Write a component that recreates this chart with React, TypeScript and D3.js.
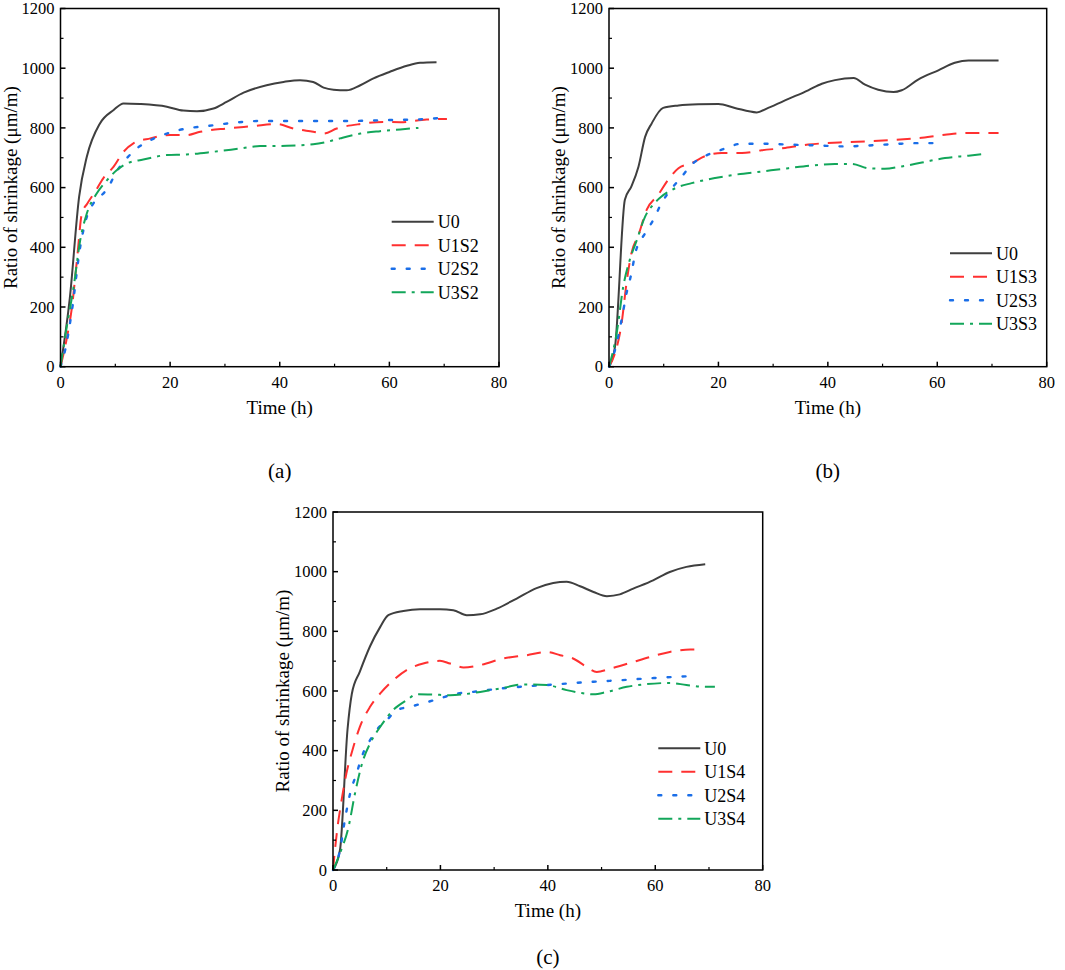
import * as d3 from "d3";

type Pt = [number, number];

// ---- data: [time (h), shrinkage (µm/m)] ----
const U0_a: Pt[] = [[0,0],[1.7,230],[3.4,570],[4.8,703],[7.2,815],[9.7,860],[11.5,882],[14.5,880],[19.4,871],[22.4,858],[24.9,856],[27.9,865],[30.3,887],[33.4,918],[37.6,943],[40.7,954],[43.7,960],[46.1,954],[48,935],[49.8,928],[52.2,926],[54.7,943],[57.1,966],[60.1,988],[63.2,1008],[65.6,1018],[68.6,1020]];
const U1S2: Pt[] = [[0,0],[1.2,100],[2.1,201],[3,357],[3.9,513],[4.9,547],[6.3,586],[7.8,631],[9.7,670],[11.5,720],[13.3,748],[16.4,765],[20,776],[23,776],[25.5,787],[30.3,798],[35.2,806],[39.4,813],[42.5,798],[46.1,787],[48,781],[50.4,798],[54.7,813],[58.9,820],[62,819],[66.8,828],[70.5,830]];
const U2S2: Pt[] = [[0,0],[0.85,56],[2.1,190],[3.6,402],[4.8,502],[6,547],[7.2,569],[8.8,603],[10,647],[11.8,692],[13.9,731],[16.4,759],[19.4,781],[23,798],[26.7,806],[31.5,817],[36.4,823],[43.7,823],[49.8,823],[55.9,824],[58.9,826],[65,828],[70.5,835]];
const U3S2: Pt[] = [[0,0],[1.15,134],[2.4,268],[3.6,424],[4.8,513],[6.6,580],[8.5,625],[10.3,659],[12.1,681],[15.1,694],[19.4,709],[23,711],[27.9,720],[32.8,731],[36.4,739],[41.3,740],[46.1,745],[48.6,753],[51,765],[54.7,781],[58.3,789],[62,795],[65.3,800]];

const U0_b: Pt[] = [[0,0],[1.1,67],[2.9,559],[4.1,604],[5.4,671],[6.6,770],[7.8,815],[9.9,867],[12.7,875],[16.3,879],[20,880],[23,867],[27,852],[29.1,867],[32.8,897],[36.4,926],[38.9,948],[41.3,960],[44.7,967],[46.8,945],[49.2,928],[52,920],[53.5,926],[56.5,962],[60.2,993],[63.2,1018],[65.7,1026],[71.2,1026]];
const U1S3: Pt[] = [[0,0],[1.1,45],[2.3,145],[3.2,280],[4.1,380],[5.4,442],[6.9,526],[9,576],[10.8,626],[12.7,665],[15.1,682],[17.5,705],[20.6,716],[24.3,716],[27.9,725],[32.2,733],[36.4,744],[43.1,752],[47.4,755],[52.3,760],[56.5,766],[61.4,777],[65.7,783],[71.2,783]];
const U2S3: Pt[] = [[0,0],[1.1,56],[2.3,157],[3.2,246],[4.1,313],[4.8,380],[6.6,447],[8.1,492],[9.6,548],[11.5,598],[13.3,637],[15.1,677],[17.5,705],[20.6,727],[24.3,747],[27.9,747],[32.8,744],[38.3,741],[43.1,738],[47.4,741],[52.3,746],[56.5,749],[60.8,749]];
const U3S3: Pt[] = [[0,0],[1.4,112],[2.6,268],[3.8,358],[5.1,425],[6.6,503],[7.8,537],[9.6,570],[12.1,598],[15.1,615],[19.4,632],[23,643],[27.9,654],[32.8,665],[37,674],[41.3,679],[44.4,679],[47.4,665],[50.4,663],[53.5,671],[57.2,684],[61.4,699],[65.7,707],[68.7,713]];

const U0_c: Pt[] = [[0,0],[1.3,67],[2.7,470],[3.5,590],[5,665],[6.9,750],[8.8,815],[10.3,854],[13.1,868],[16.2,874],[19.9,874],[22.4,871],[24.9,854],[27.4,857],[30.5,876],[34.2,910],[37.9,945],[41,962],[43.5,966],[46,951],[48.5,932],[51,918],[53.4,924],[55.9,943],[59.6,971],[62.7,999],[65.8,1016],[69.3,1025]];
const U1S4: Pt[] = [[0,0],[0.7,123],[1.6,234],[2.5,324],[3.8,413],[5,480],[6.9,547],[8.8,592],[11.2,636],[13.7,670],[16.8,692],[19.9,701],[21.8,692],[24.3,679],[27.4,687],[31.7,709],[36.1,720],[39.8,731],[42.3,720],[44.7,709],[47.2,681],[49.1,664],[51.6,675],[55.3,694],[59,714],[62.7,731],[66.5,739],[68.6,739]];
const U2S4: Pt[] = [[0,0],[1.3,67],[2.2,167],[3.2,257],[4.4,324],[5.6,391],[6.9,435],[8.1,469],[10,502],[11.9,536],[14.3,547],[17.4,562],[19.9,575],[22.4,589],[26.1,597],[31.1,608],[36.1,616],[39.8,620],[43.5,625],[48.5,631],[53.4,636],[58.4,642],[63.4,647],[67.1,650]];
const U3S4: Pt[] = [[0,0],[1.3,56],[2.9,145],[4.1,257],[5.6,368],[6.9,424],[8.8,480],[11.2,536],[13.7,569],[15.6,589],[18.7,588],[21.8,586],[24.3,589],[27.4,597],[31.1,608],[35.4,622],[39.8,620],[43.5,603],[46,594],[48.5,589],[51,597],[54.7,614],[58.4,623],[62.7,627],[65.8,620],[69,614],[71.1,614]];

const xTicks = [0, 20, 40, 60, 80];
const yTicks = [0, 200, 400, 600, 800, 1000, 1200];
const xMinor = [10, 30, 50, 70];
const yMinor = [100, 300, 500, 700, 900, 1100];

const styles = [
  { color: "#3f3f3f", dash: null as string | null, width: 2 },
  { color: "#ff3030", dash: "14,9", width: 2 },
  { color: "#1a6ee8", dash: "3,12", width: 2.4 },
  { color: "#12a65a", dash: "14,6,3,6", width: 2 },
];

const FONT = "Liberation Serif, Times New Roman, DejaVu Serif, serif";

type PanelProps = {
  left: number; right: number; top: number; bottom: number;
  series: { name: string; data: Pt[] }[];
  legendX: number; legendY: number; label: string; labelY: number;
};

function Panel({ left, right, top, bottom, series, legendX, legendY, label, labelY }: PanelProps) {
  const x = d3.scaleLinear().domain([0, 80]).range([left, right]);
  const y = d3.scaleLinear().domain([0, 1200]).range([bottom, top]);
  const line = d3.line<Pt>().x(d => x(d[0])).y(d => y(d[1])).curve(d3.curveMonotoneX);
  const midX = (left + right) / 2;

  return (
    <g style={{ fontFamily: FONT }}>
      {series.map((s, i) => (
        <path key={s.name} d={line(s.data) ?? ""} fill="none"
          stroke={styles[i].color} strokeWidth={styles[i].width}
          strokeDasharray={styles[i].dash ?? undefined}
          strokeLinecap={i === 2 ? "round" : "butt"} />
      ))}
      <rect x={left} y={top} width={right - left} height={bottom - top} fill="none" stroke="#000" strokeWidth={1.5} />
      {xTicks.map(t => (
        <g key={"x" + t}>
          <line x1={x(t)} x2={x(t)} y1={bottom} y2={bottom - 5} stroke="#000" strokeWidth={1.5} />
          <text x={x(t)} y={bottom + 21} textAnchor="middle" fontSize={16.5}>{t}</text>
        </g>
      ))}
      {xMinor.map(t => (
        <line key={"xm" + t} x1={x(t)} x2={x(t)} y1={bottom} y2={bottom - 3} stroke="#000" strokeWidth={1.2} />
      ))}
      {yTicks.map(t => (
        <g key={"y" + t}>
          <line x1={left} x2={left + 5} y1={y(t)} y2={y(t)} stroke="#000" strokeWidth={1.5} />
          <text x={left - 6} y={y(t)} dy="0.35em" textAnchor="end" fontSize={16.5}>{t}</text>
        </g>
      ))}
      {yMinor.map(t => (
        <line key={"ym" + t} x1={left} x2={left + 3} y1={y(t)} y2={y(t)} stroke="#000" strokeWidth={1.2} />
      ))}
      <text x={midX} y={bottom + 47} textAnchor="middle" fontSize={19}>Time (h)</text>
      <text transform={`translate(${left - 44},${(top + bottom) / 2}) rotate(-90)`} textAnchor="middle"
        fontSize={19}>Ratio of shrinkage (μm/m)</text>
      {series.map((s, i) => (
        <g key={"lg" + s.name} transform={`translate(${legendX},${legendY + i * 23.5})`}>
          <line x1={0} x2={42} y1={0} y2={0} stroke={styles[i].color} strokeWidth={styles[i].width}
            strokeDasharray={styles[i].dash ?? undefined} strokeLinecap={i === 2 ? "round" : "butt"} />
          <text x={46} y={0} dy="0.35em" fontSize={18}>{s.name}</text>
        </g>
      ))}
      <text x={midX} y={labelY} dy="0.35em" textAnchor="middle" fontSize={21}>{label}</text>
    </g>
  );
}

export default function App() {
  return (
    <svg width={1065} height={970} style={{ position: "absolute", left: 0, top: 0, background: "#fff" }}>
      <Panel left={60.5} right={499} top={8.5} bottom={366.7} legendX={391.7} legendY={221.7}
        label="(a)" labelY={471}
        series={[{ name: "U0", data: U0_a }, { name: "U1S2", data: U1S2 }, { name: "U2S2", data: U2S2 }, { name: "U3S2", data: U3S2 }]} />
      <Panel left={609} right={1046.7} top={8.5} bottom={366.7} legendX={950} legendY={253.3}
        label="(b)" labelY={471}
        series={[{ name: "U0", data: U0_b }, { name: "U1S3", data: U1S3 }, { name: "U2S3", data: U2S3 }, { name: "U3S3", data: U3S3 }]} />
      <Panel left={333} right={762.7} top={512} bottom={870} legendX={658.3} legendY={748.3}
        label="(c)" labelY={956.7}
        series={[{ name: "U0", data: U0_c }, { name: "U1S4", data: U1S4 }, { name: "U2S4", data: U2S4 }, { name: "U3S4", data: U3S4 }]} />
    </svg>
  );
}
